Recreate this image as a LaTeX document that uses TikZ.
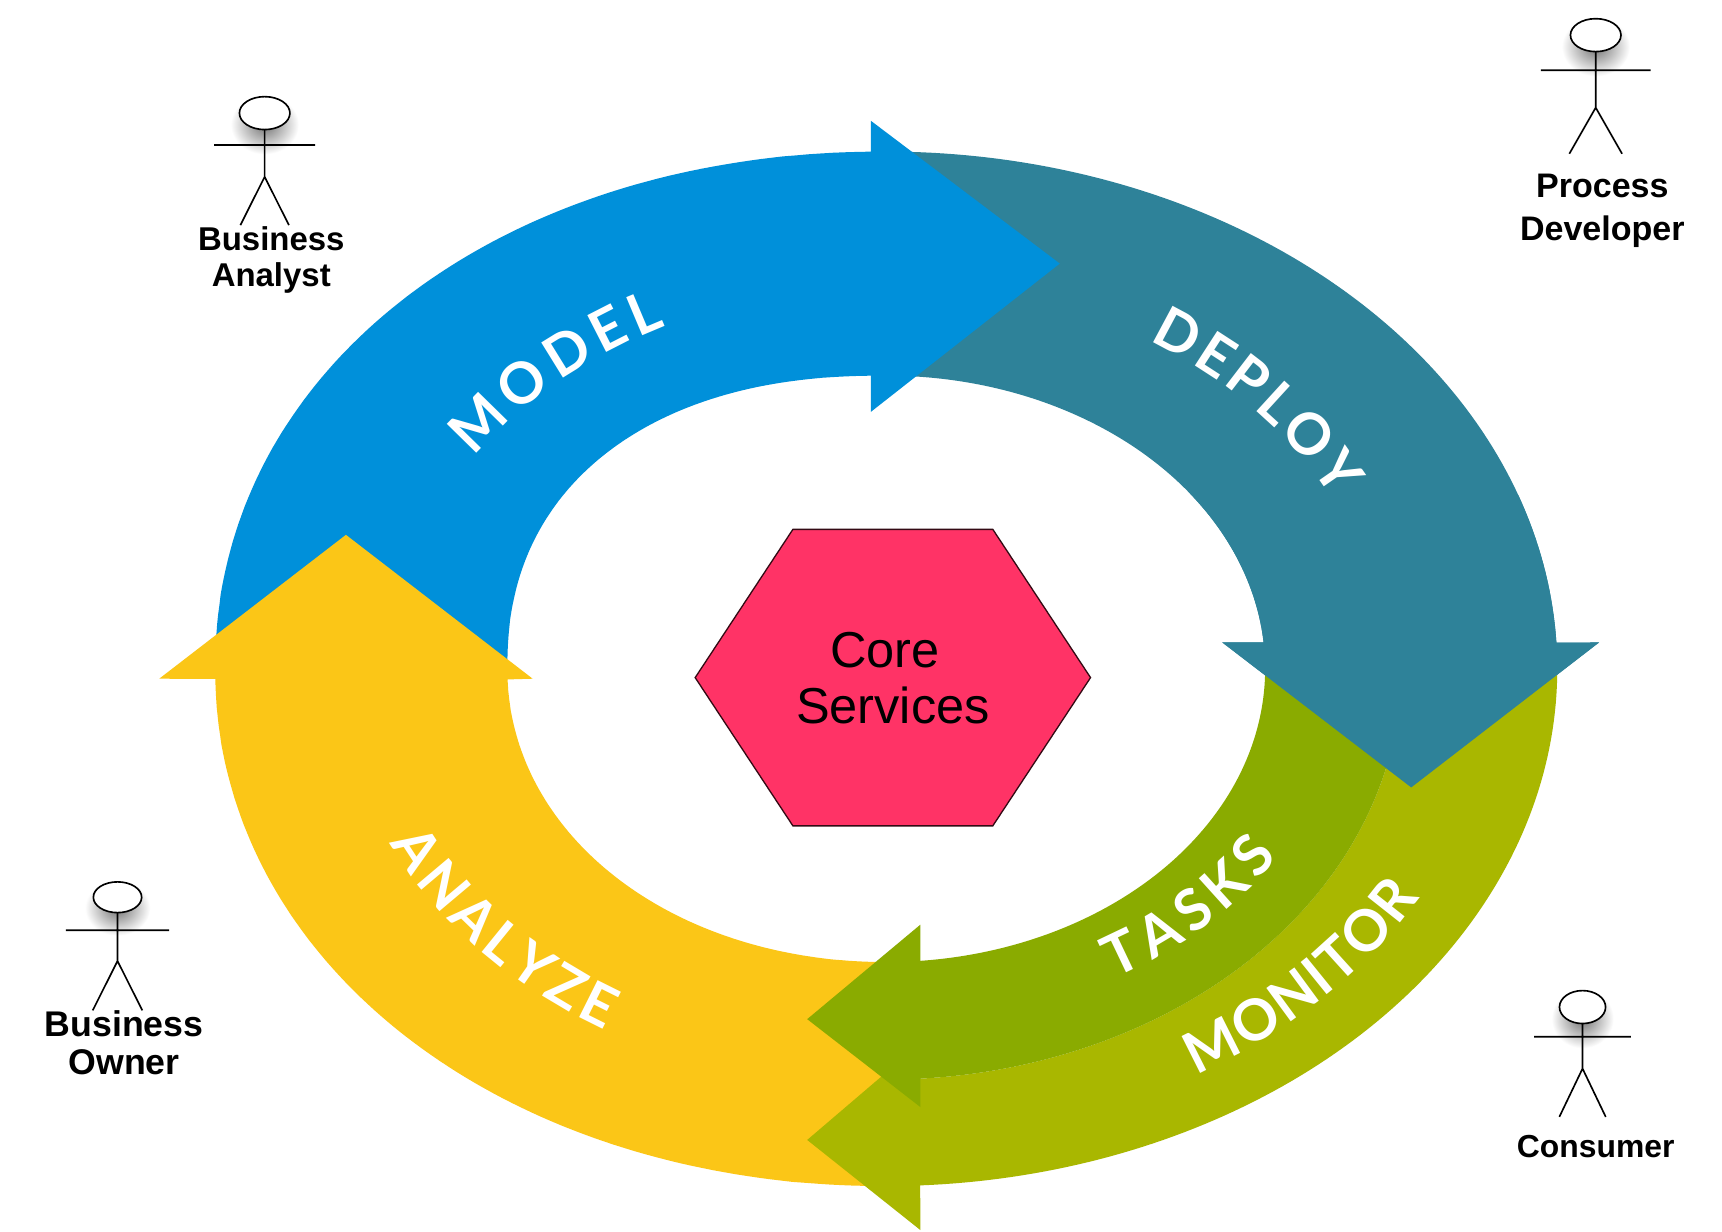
\documentclass[tikz,border=0pt]{standalone}
\usepackage{fontspec}
\setmainfont{Liberation Sans}
\newfontfamily\bandfont{Lato}
\usetikzlibrary{decorations.text}
\definecolor{cblue}{HTML}{0090DA}
\definecolor{cteal}{HTML}{2E8299}
\definecolor{cyellow}{HTML}{FBC617}
\definecolor{cmonitor}{HTML}{A9B700}
\definecolor{ctasks}{HTML}{8AAB00}
\definecolor{cpink}{HTML}{FF3366}
\tikzset{
 earc/.style n args={4}{insert path={-- plot[domain=#3:#4,samples=90,variable=\t] ({807+#1*cos(\t)},{609+#2*sin(\t)})}},
 searc/.style n args={5}{insert path={-- plot[domain=#3:#4,samples=90,variable=\t] ({807+#1*sign(cos(\t))*abs(cos(\t))^#5},{609+#2*sign(sin(\t))*abs(sin(\t))^#5})}},
 tealpath/.style={insert path={(807,138) [earc={611}{471}{-90}{-2.9}] -- (1456,585) -- (1285,717) -- (1113,585) [earc={345}{267}{-5.2}{-90}] -- cycle}},
 actor/.style={draw=black,line width=1.5pt},
 actorlabel/.style={font=\bfseries\fontsize{#1}{#1}\selectfont,text=black,inner sep=0pt,align=center},
 halo/.style={inner color=black!55,outer color=white},
}
\newcommand{\bandtext}[5]{\path[decorate,decoration={text along path,text color=white,text align={fit to path},text={|\bandfont\bfseries\fontsize{52}{52}\selectfont|#1}}] plot[domain=#4:#5,samples=80,variable=\t] ({807+#2*cos(\t)},{609+#3*sin(\t)});}
\newcommand{\stickman}[9]{%
 % #1 name, #2 hx, #3 hy, #4 rx, #5 ry, #6 arm y, #7 half arm, #8 hip y, #9 foot y
 \shade[halo] (#2,#3+#5*0.7) ellipse [x radius=#4*1.35pt,y radius=#5*1.8pt];
 \fill[white] (#2,#3) ellipse [x radius=#4 pt,y radius=#5 pt];
 \draw[actor] (#2,#3) ellipse [x radius=#4 pt,y radius=#5 pt];
 \coordinate (#1neck) at (#2,#3+#5);
 \coordinate (#1hip) at (#2,#8);
 \coordinate (#1la) at (#2-#7,#6);
 \coordinate (#1ra) at (#2+#7,#6);
 \coordinate (#1lf) at (#2-0.48*#7,#9);
 \coordinate (#1rf) at (#2+0.48*#7,#9);
 \draw[actor] (#1neck) -- (#1hip) (#1lf) -- (#1hip) -- (#1rf) (#1la) -- (#1ra);
}
\begin{document}
\begin{tikzpicture}[x=1pt,y=-1pt]
\useasboundingbox (0,0) rectangle (1568,1121);
\fill[white] (0,0) rectangle (1568,1121);
% teal band
\fill[cteal] [tealpath];
% blue band
\fill[cblue] (196,609) [searc={611}{471}{180.5}{268.88}{0.96}] -- (793,110) -- (965,240) -- (793,375) [searc={345}{267}{268.5}{180.5}{0.88}] -- cycle;
% yellow band
\fill[cyellow] (807,1080) [searc={611}{471}{90.5}{179}{0.975}] -- (145,618) -- (315,487) -- (485,618) [searc={345}{267}{178.1}{90.5}{0.98}] -- cycle;
% monitor band
\fill[cmonitor] (1418,609) [earc={611}{471}{0}{87.1}] -- (838,1120) -- (735,1038) -- (838,950) [earc={469}{374}{86.2}{0}] -- cycle;
% tasks band
\fill[ctasks] (1152,609) [earc={345}{267}{0}{84.85}] -- (838,842) -- (735,928) -- (838,1008) [earc={469}{374}{86.2}{0}] -- cycle;
% teal head over the green bands
\begin{scope}
\clip (1000,450) rectangle (1568,800);
\fill[cteal] [tealpath];
\end{scope}
% hexagon
\draw[fill=cpink,draw=black!80!cpink,line width=1.2pt] (633,617) -- (722,482) -- (904,482) -- (993,617) -- (904,752) -- (722,752) -- cycle;
\node[font=\fontsize{46}{46}\selectfont,text=black,inner sep=0pt] (core) at (806,592) {Core};
\node[font=\fontsize{46}{46}\selectfont,text=black,inner sep=0pt] (services) at (813,642) {Services};
% band labels
\bandtext{MODEL}{450}{349}{213.5}{243.5}
\bandtext{DEPLOY}{452}{352}{-58}{-26}
\bandtext{TASKS}{421}{324}{60.4}{32}
\bandtext{MONITOR}{556}{429}{59.5}{29}
\bandtext{ANALYZE}{497}{384}{155.5}{121}
% actors
\stickman{ba}{241}{103}{23}{15}{132}{46}{161}{205}
\node[actorlabel=30] (ba1) at (247,217) {Business};
\node[actorlabel=30] (ba2) at (247,253) {Analyst};
\stickman{pd}{1453}{32}{23}{15}{64}{50}{98}{140}
\node[actorlabel=31] (pd1) at (1459,169) {Process};
\node[actorlabel=31] (pd2) at (1459,211) {Developer};
\stickman{bo}{107}{817}{22}{14}{847}{47}{875}{920}
\node[actorlabel=32.5] (bo1) at (113,932) {Business};
\node[actorlabel=32.5] (bo2) at (113,967) {Owner};
\stickman{co}{1441}{917}{21}{15}{944}{44}{973}{1017}
\node[actorlabel=29] (co1) at (1453,1044) {Consumer};
\end{tikzpicture}
\end{document}
